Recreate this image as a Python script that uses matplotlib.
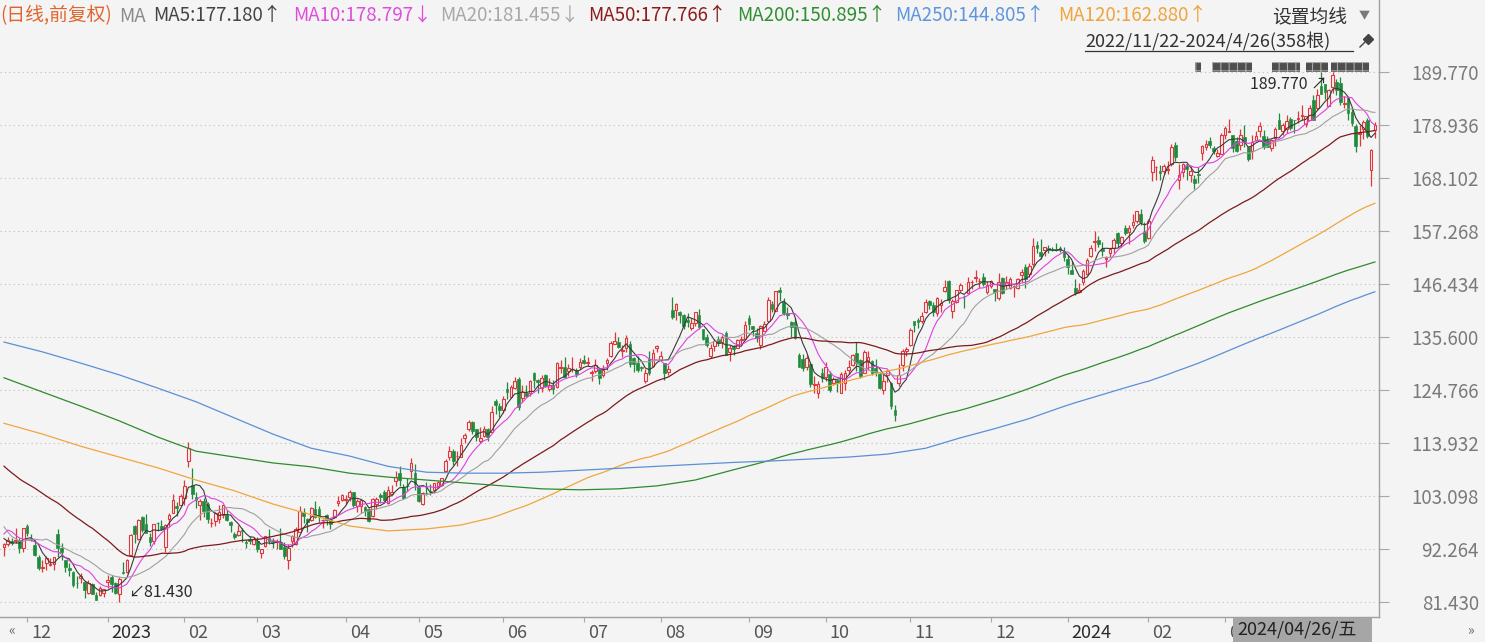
import numpy as np
import pandas as pd
import matplotlib
matplotlib.use('Agg')
import matplotlib.pyplot as plt
from matplotlib.patches import Rectangle
from matplotlib.transforms import ScaledTranslation, Bbox

plt.rcParams['font.family'] = ['Noto Sans CJK SC', 'DejaVu Sans']
plt.rcParams['hatch.linewidth'] = 0.8

# 日线数据 2022/11/22 - 2024/4/26 (358根)
# 均线预热用的前49个收盘价
pre_closes = [
    128.55, 126.28, 123.53, 124.66, 122.19, 118.54, 117.31, 113.78, 115.15, 114.41, 118.01, 114.80, 113.00,
    115.88, 121.09, 120.95, 120.30, 114.56, 113.67, 112.21, 112.90, 112.53, 106.90, 113.79, 116.36, 115.07,
    115.25, 119.32, 119.82, 120.60, 115.66, 110.96, 103.41, 102.44,
    96.79, 92.12, 89.30, 90.98, 90.53, 89.98, 86.14, 96.63, 100.79, 98.49, 98.94, 97.12, 94.85, 94.14, 92.46,
]

opens = [
    92.62, 93.24, 93.79, 93.93, 94.04, 92.47,  # 2022-11
    96.99, 94.48, 93.05, 90.50, 88.34, 89.24, 88.90, 89.21, 95.23, 92.50, 89.89, 88.27, 87.51, 85.33, 86.18, 85.52, 83.25, 84.97, 82.80, 82.87, 83.12,
    85.46, 86.55, 85.33, 83.03, 87.46, 87.57, 90.93, 96.93, 94.18, 98.68, 97.25, 94.74, 93.86, 97.56, 96.93, 92.56, 98.24, 99.53, 101.09, 101.16,
    102.53, 110.25, 105.26, 102.93, 101.17, 102.04, 101.32, 97.56, 97.85, 98.41, 99.09, 99.21, 97.80, 95.34, 95.10, 96.12, 93.53, 94.28, 93.14,
    93.87, 91.41, 92.74, 94.36, 93.87, 93.60, 93.68, 92.67, 89.97, 93.83, 93.22, 95.75, 99.79, 98.41, 98.14, 100.45, 100.43, 98.07, 99.07, 98.11, 98.69, 101.55, 102.16,
    102.30, 102.75, 103.91, 100.96, 100.96, 100.80, 100.40, 98.95, 101.30, 103.16, 103.95, 101.58, 103.53, 106.10, 107.66, 104.91, 105.04, 108.16, 107.73,
    104.95, 101.47, 103.74, 104.04, 104.27, 105.04, 105.32, 108.10, 111.03, 112.16, 111.15, 111.05, 114.89, 116.69, 118.16, 116.77, 114.27, 115.35, 116.63, 116.04, 122.37, 121.45,
    120.69, 124.92, 123.36, 125.07, 127.01, 123.01, 124.08, 124.02, 128.12, 126.70, 125.21, 127.71, 124.97, 125.64, 125.31, 129.11, 129.33, 128.63, 128.94, 128.77, 129.47,
    130.82, 130.24, 128.25, 128.59, 129.07, 127.75, 130.31, 131.66, 134.06, 134.56, 132.71, 133.39, 134.07, 131.34, 130.31, 129.31, 126.51, 131.00, 129.69, 133.20,
    130.78, 130.15, 128.37, 141.06, 140.99, 140.62, 139.97, 139.07, 137.40, 138.30, 140.05, 137.19, 135.46, 131.62, 133.74, 135.08, 134.50, 136.40, 132.47, 133.78, 133.38, 134.93, 135.06,
    139.46, 137.73, 136.32, 133.90, 136.86, 138.75, 142.32, 140.95, 145.08, 142.69, 140.48, 138.70, 138.55, 131.94, 131.11, 129.36, 130.12, 125.76, 124.04, 128.20,
    127.28, 128.06, 126.06, 126.71, 124.16, 126.22, 128.82, 129.74, 132.17, 130.74, 128.23, 130.39, 130.70, 129.14, 128.05, 124.63, 127.74, 126.04, 120.63, 126.20, 129.72, 132.75,
    133.96, 138.73, 138.99, 138.76, 140.55, 142.97, 142.02, 140.46, 142.08, 145.00, 147.06, 140.91, 142.66, 145.13, 143.91, 144.57, 146.70, 147.53, 146.98, 147.85, 144.76,
    146.00, 145.25, 143.55, 147.58, 146.15, 145.48, 145.66, 145.52, 148.12, 149.93, 148.38, 150.56, 154.40, 152.90, 153.30, 153.77, 153.56, 153.56, 153.72, 153.10,
    151.54, 149.20, 145.59, 144.69, 146.74, 148.33, 152.06, 155.04, 155.39, 153.53, 151.49, 152.77, 153.83, 156.89, 154.85, 157.80, 156.95, 158.42, 159.34, 160.70, 157.00,
    155.87, 169.19, 170.20, 169.39, 169.48, 169.65, 170.90, 174.80, 167.73, 169.21, 170.58, 168.74, 167.83, 168.94, 173.10, 174.28, 175.70, 174.08, 172.44, 173.01,
    176.75, 177.53, 176.93, 175.54, 174.83, 176.44, 174.31, 173.50, 175.90, 177.69, 176.64, 175.80, 174.22, 176.14, 179.99, 177.75, 178.01, 180.15, 179.88, 180.17,
    180.79, 179.07, 179.90, 184.00, 182.38, 186.90, 187.24, 182.77, 186.74, 187.72, 187.43, 183.27, 184.31, 181.47, 178.74, 176.94, 178.08, 179.94, 169.68, 177.80,
]

highs = [
    93.35, 94.58, 94.43, 96.40, 94.41, 96.54,
    97.23, 95.36, 94.06, 91.04, 89.89, 90.86, 90.30, 90.58, 96.25, 93.46, 89.97, 89.35, 87.63, 86.61, 87.23, 85.68, 85.78, 85.35, 83.48, 84.55, 84.05,
    86.96, 86.98, 85.42, 86.40, 89.48, 90.19, 95.26, 97.19, 98.37, 98.89, 99.32, 95.44, 97.35, 97.78, 98.09, 97.24, 99.49, 103.49, 101.74, 103.35,
    106.24, 114.00, 108.78, 103.95, 102.41, 102.67, 101.78, 98.60, 99.68, 101.18, 101.17, 100.08, 97.94, 95.61, 97.01, 96.43, 94.14, 94.78, 94.69,
    94.68, 92.23, 94.96, 96.30, 94.45, 94.17, 96.54, 93.57, 93.19, 95.07, 96.67, 100.99, 100.66, 98.48, 100.85, 102.10, 101.06, 98.30, 99.34, 98.44, 100.42, 103.04, 103.49,
    103.29, 104.20, 103.91, 102.38, 102.20, 101.00, 100.51, 102.57, 102.78, 103.73, 104.20, 105.12, 105.25, 108.15, 109.23, 105.45, 106.62, 110.86, 109.48,
    105.23, 103.90, 105.96, 105.39, 105.76, 106.09, 106.79, 110.67, 113.28, 112.64, 112.29, 114.79, 115.83, 118.60, 118.31, 116.77, 117.14, 117.34, 116.87, 121.50, 122.92, 122.04,
    123.49, 126.38, 125.80, 127.40, 127.37, 125.63, 125.80, 126.78, 128.41, 126.95, 127.69, 127.90, 127.25, 126.73, 130.33, 130.84, 131.49, 130.09, 131.48, 129.26, 131.25,
    131.85, 131.40, 128.73, 130.97, 129.28, 129.77, 131.26, 134.62, 136.65, 135.62, 133.86, 135.99, 134.79, 131.37, 131.66, 129.58, 129.08, 132.63, 133.01, 133.87,
    132.63, 130.23, 129.77, 143.63, 142.54, 140.84, 140.32, 140.41, 139.33, 140.59, 141.28, 137.27, 136.09, 134.07, 135.19, 135.65, 135.95, 136.78, 133.87, 133.95, 135.14, 135.68, 138.79,
    139.96, 137.80, 137.45, 138.03, 138.85, 143.62, 143.00, 144.98, 145.86, 143.57, 141.75, 138.84, 139.37, 132.24, 132.03, 131.78, 130.39, 127.48, 126.58, 129.15,
    130.47, 128.52, 127.36, 126.73, 128.45, 128.79, 130.74, 132.05, 134.48, 131.00, 132.80, 132.58, 130.92, 130.95, 128.17, 127.88, 128.80, 126.34, 121.64, 130.02, 133.00, 133.57,
    137.35, 138.81, 139.49, 140.73, 143.37, 143.12, 142.65, 143.65, 143.23, 147.26, 147.29, 143.32, 145.23, 146.63, 144.05, 147.74, 147.20, 149.26, 147.60, 148.54, 146.93,
    147.25, 145.35, 148.57, 147.85, 147.92, 147.84, 146.19, 147.50, 149.46, 150.54, 150.57, 155.76, 155.12, 155.63, 153.97, 154.35, 153.98, 154.78, 154.08, 153.89,
    152.38, 151.05, 147.38, 146.59, 149.40, 151.71, 154.42, 157.17, 156.20, 154.99, 152.15, 153.78, 155.76, 157.05, 156.21, 158.51, 158.51, 160.72, 161.29, 161.73, 159.01,
    159.76, 172.50, 170.55, 170.71, 170.88, 171.43, 175.00, 175.39, 170.95, 171.21, 171.17, 170.42, 168.71, 170.23, 174.80, 175.75, 176.37, 174.62, 174.05, 177.22,
    178.73, 180.14, 176.93, 176.46, 177.99, 178.79, 174.47, 176.76, 177.62, 179.53, 177.93, 176.69, 176.09, 178.53, 181.42, 179.26, 180.99, 180.45, 180.00, 181.70,
    183.00, 180.79, 182.87, 185.10, 186.27, 189.74, 187.34, 186.27, 189.77, 188.38, 188.69, 184.83, 184.57, 182.39, 179.00, 178.87, 179.93, 180.32, 173.92, 179.40,
]

lows = [
    90.87, 92.83, 93.07, 93.43, 91.44, 91.53,
    94.92, 93.78, 90.82, 87.90, 87.48, 87.88, 88.63, 87.87, 90.52, 89.87, 87.47, 86.73, 84.51, 84.33, 85.21, 82.25, 82.93, 83.00, 81.69, 82.55, 82.47,
    84.21, 83.36, 83.07, 81.43, 87.08, 87.29, 90.93, 93.50, 94.12, 95.73, 95.38, 92.86, 93.20, 95.86, 96.00, 91.52, 96.92, 99.53, 99.01, 101.14,
    101.24, 108.88, 102.52, 100.65, 98.08, 98.78, 97.57, 96.76, 96.91, 97.43, 98.45, 97.90, 95.65, 94.27, 94.80, 93.67, 92.32, 93.14, 92.92,
    91.59, 90.39, 92.66, 93.30, 92.36, 92.18, 92.10, 90.25, 88.12, 92.71, 93.07, 95.61, 97.46, 95.70, 98.00, 98.61, 97.62, 96.40, 97.08, 96.29, 98.56, 101.01, 101.95,
    101.43, 102.11, 100.75, 99.80, 99.57, 99.01, 97.71, 98.71, 100.28, 101.59, 101.52, 101.39, 103.21, 105.08, 105.07, 102.45, 104.10, 106.80, 104.33,
    101.82, 101.15, 103.28, 103.31, 103.55, 104.70, 105.16, 108.05, 110.49, 109.32, 109.25, 111.03, 113.96, 116.34, 115.70, 114.25, 113.78, 115.02, 114.31, 116.02, 119.86, 119.17,
    119.93, 122.89, 123.03, 125.00, 120.63, 122.26, 123.19, 123.53, 125.18, 124.12, 124.32, 125.30, 124.50, 123.85, 125.14, 128.28, 127.10, 127.55, 128.44, 127.26, 128.95,
    130.07, 129.64, 126.58, 128.13, 125.92, 127.35, 128.83, 131.43, 134.06, 133.21, 131.35, 132.53, 129.33, 128.42, 128.35, 128.53, 126.11, 127.79, 129.33, 132.38,
    130.65, 126.82, 127.77, 139.32, 138.95, 138.42, 137.10, 137.49, 137.00, 137.75, 137.23, 135.01, 133.53, 131.15, 132.71, 133.73, 133.22, 131.83, 130.58, 131.85, 133.25, 133.92, 135.00,
    136.88, 135.82, 134.61, 133.16, 136.75, 138.64, 140.61, 140.87, 142.95, 140.09, 139.22, 135.56, 135.20, 129.31, 128.52, 128.77, 125.28, 124.13, 123.04, 126.32,
    126.54, 124.25, 125.68, 124.33, 124.13, 124.76, 128.05, 129.61, 128.66, 127.13, 128.12, 128.71, 127.87, 127.65, 124.97, 123.98, 126.34, 120.79, 118.35, 125.52, 128.56, 131.71,
    133.71, 136.47, 137.45, 138.36, 140.50, 141.22, 139.84, 139.91, 140.67, 144.68, 142.59, 139.52, 142.54, 144.73, 141.50, 144.57, 145.32, 146.88, 145.53, 145.97, 144.33,
    145.55, 142.81, 143.13, 144.28, 145.34, 145.40, 143.64, 145.30, 146.82, 145.52, 147.88, 150.05, 152.69, 151.50, 152.10, 152.71, 153.03, 153.12, 152.95, 151.03,
    148.39, 148.33, 144.05, 144.53, 146.15, 148.21, 151.88, 153.12, 154.01, 152.15, 149.91, 151.82, 152.74, 153.90, 153.93, 156.48, 154.55, 157.91, 158.90, 158.49, 154.81,
    155.62, 167.33, 167.70, 167.65, 168.94, 168.88, 170.58, 171.54, 165.75, 168.28, 167.59, 167.17, 165.74, 167.00, 171.77, 173.70, 174.26, 172.86, 172.27, 172.85,
    176.07, 177.49, 173.30, 173.26, 173.72, 174.33, 171.47, 171.98, 175.55, 176.47, 173.90, 174.28, 173.52, 174.64, 178.15, 176.75, 177.24, 177.95, 177.31, 179.26,
    179.95, 178.38, 179.80, 180.00, 181.97, 185.55, 184.20, 182.67, 185.51, 185.08, 183.00, 182.26, 179.82, 178.65, 173.44, 174.56, 175.98, 176.18, 166.32, 176.13,
]

closes = [
    93.20, 94.13, 93.41, 93.95, 92.42, 96.54,
    95.50, 94.13, 91.01, 88.25, 88.46, 90.35, 89.09, 90.55, 92.49, 91.58, 88.45, 87.86, 84.92, 85.19, 86.77, 83.79, 85.25, 83.04, 81.82, 84.18, 84.00,
    85.82, 85.14, 83.12, 86.08, 87.36, 89.87, 95.09, 95.27, 98.12, 96.05, 95.46, 93.68, 97.25, 97.52, 96.32, 97.18, 99.22, 102.24, 100.55, 103.13,
    105.15, 112.91, 103.39, 102.18, 102.11, 100.05, 98.24, 97.61, 99.54, 99.70, 101.16, 98.15, 97.20, 94.58, 95.79, 95.82, 93.50, 93.76, 94.23,
    92.17, 92.13, 94.90, 93.75, 93.55, 93.92, 92.25, 90.73, 92.43, 94.88, 96.20, 100.04, 98.95, 97.71, 100.61, 98.70, 98.71, 98.13, 98.04, 97.24, 100.25, 102.00, 103.29,
    102.41, 103.95, 101.10, 102.06, 102.17, 99.92, 97.83, 102.40, 102.51, 102.74, 102.30, 104.30, 103.81, 106.96, 106.21, 102.57, 104.98, 109.82, 105.45,
    102.05, 103.63, 103.65, 104.00, 105.66, 105.83, 106.62, 110.19, 112.18, 110.26, 111.20, 113.40, 115.50, 118.15, 116.25, 115.01, 114.99, 116.75, 115.00, 120.11, 121.66, 120.58,
    122.77, 124.25, 125.30, 126.61, 121.23, 124.25, 123.43, 126.57, 126.66, 126.42, 127.11, 125.49, 125.78, 124.83, 130.15, 129.33, 127.33, 129.18, 129.04, 127.90, 130.36,
    130.22, 130.38, 128.36, 129.78, 127.13, 128.78, 130.80, 134.30, 134.68, 133.56, 132.83, 135.36, 129.96, 130.00, 128.80, 129.13, 128.15, 128.25, 132.21, 133.68,
    131.69, 128.21, 128.91, 139.57, 142.22, 139.94, 137.85, 138.56, 138.41, 140.57, 137.67, 135.07, 133.98, 133.22, 134.68, 134.25, 135.52, 131.84, 133.26, 133.14, 134.91, 135.07, 138.01,
    138.12, 137.27, 135.36, 137.85, 138.23, 143.10, 141.23, 144.85, 144.72, 140.39, 139.98, 137.63, 135.29, 129.33, 129.12, 131.27, 125.98, 125.98, 125.98, 127.12,
    129.46, 124.72, 127.00, 126.21, 127.96, 128.26, 129.48, 131.83, 130.15, 127.57, 132.55, 131.47, 128.13, 128.40, 125.17, 126.56, 128.56, 121.39, 119.57, 127.74, 132.71, 133.09,
    137.00, 138.07, 138.60, 139.74, 142.71, 142.08, 140.60, 143.56, 142.59, 145.80, 143.20, 142.83, 145.18, 146.13, 143.90, 146.71, 146.74, 147.73, 147.03, 146.32, 146.09,
    147.03, 144.84, 146.88, 144.52, 146.88, 147.42, 145.89, 147.48, 148.84, 147.42, 149.97, 154.07, 153.79, 152.12, 153.84, 153.42, 153.41, 153.34, 153.38, 151.94,
    149.93, 148.47, 144.57, 145.24, 149.10, 151.37, 153.73, 155.18, 154.62, 153.16, 151.71, 153.50, 155.34, 154.78, 156.02, 156.87, 157.75, 159.12, 161.26, 159.00, 155.20,
    159.28, 171.81, 170.31, 169.15, 170.53, 169.84, 174.45, 172.34, 168.64, 170.98, 169.80, 169.51, 167.08, 168.59, 174.58, 174.99, 174.73, 173.54, 173.16, 176.76,
    178.22, 177.58, 174.12, 173.51, 176.82, 175.35, 171.96, 175.39, 176.56, 178.75, 174.42, 174.48, 175.90, 178.15, 178.15, 178.87, 179.71, 178.30, 179.83, 180.38,
    180.97, 180.69, 182.41, 180.00, 185.07, 185.19, 185.67, 185.95, 189.05, 186.13, 183.62, 183.32, 181.28, 179.22, 174.63, 177.23, 179.54, 176.59, 173.67, 178.87,
]

# 长周期均线在窗口不足处从图上读取的点（K线序号, 数值）
ma120_early_idx = [0, 10, 20, 30, 40, 50, 60, 70, 80, 90, 100, 110]
ma120_early = [117.9, 115.7, 113.2, 111.0, 108.8, 106.3, 104.1, 101.4, 99.2, 96.9, 95.9, 96.3]
ma200_early_idx = list(range(0, 200, 10))
ma200_early = [127.2, 124.3, 121.4, 118.4, 115.1, 112.2, 111.0, 109.8, 109.0, 107.7,
               106.9, 106.3, 105.7, 105.1, 104.5, 104.3, 104.5, 105.1, 106.3, 108.4]
ma250_early_idx = list(range(0, 250, 10))
ma250_early = [134.5, 132.5, 130.2, 127.8, 125.1, 122.3, 119.0, 115.7, 112.8, 111.2,
               109.1, 107.9, 107.7, 107.7, 107.9, 108.3, 108.7, 109.1, 109.5, 109.9,
               110.2, 110.6, 111.0, 111.6, 112.8]

month_idx = [6, 27, 47, 66, 89, 108, 130, 151, 171, 194, 214, 236, 257, 277, 298, 318]
month_labels = ['12', '2023', '02', '03', '04', '05', '06', '07', '08', '09', '10', '11', '12', '2024', '02', '03']
price_ticks = [81.430, 92.264, 103.098, 113.932, 124.766, 135.600, 146.434, 157.268, 168.102, 178.936, 189.770]

legend_items = [
    ('(日线,前复权)', '#e0652c'), ('MA', '#8a8a8a'), ('MA5:177.180↑', '#444444'),
    ('MA10:178.797↓', '#e04ce0'), ('MA20:181.455↓', '#a8a8a8'), ('MA50:177.766↑', '#8b1c1c'),
    ('MA200:150.895↑', '#2f8f2f'), ('MA250:144.805↑', '#5f95dc'), ('MA120:162.880↑', '#f0a43c'),
]
legend_x = [0, 119, 153, 293, 440, 588, 737, 895, 1058]

BG = '#f4f4f4'
RED = '#e0363c'
GREEN = '#1f8a3c'

o = np.array(opens)
h = np.array(highs)
l = np.array(lows)
c = np.array(closes)
idx = np.arange(len(c))
up = c >= o

allc = pd.Series(pre_closes + closes)
npre = len(pre_closes)


def ma_short(n):
    return allc.rolling(n, min_periods=1).mean().values[npre:]


def ma_long(n, early_idx, early_vals):
    full = pd.Series(closes).rolling(n).mean().values
    xs = list(early_idx) + list(range(n - 1, len(closes)))
    ys = list(early_vals) + list(full[n - 1:])
    return xs, ys


fig = plt.figure(figsize=(14.85, 6.42), dpi=100, facecolor=BG)
ax = fig.add_axes([0, 25 / 642, 1379 / 1485, 617 / 642], facecolor=BG)

# K线
bot = np.minimum(o, c)
top = np.maximum(o, c)
cols = np.where(up, RED, GREEN)
ax.vlines(idx, l, bot, colors=cols, linewidth=0.9, zorder=2)
ax.vlines(idx, top, h, colors=cols, linewidth=0.9, zorder=2)
ax.bar(idx[up], (c - o)[up], bottom=o[up], width=0.7, facecolor=BG,
       edgecolor=RED, linewidth=0.8, zorder=2)
ax.bar(idx[~up], (o - c)[~up], bottom=c[~up], width=0.7, facecolor=GREEN,
       edgecolor=GREEN, linewidth=0.5, zorder=2)

# 均线
ax.plot(idx, ma_short(5), color='#3a3a3a', lw=0.8, zorder=3)
ax.plot(idx, ma_short(10), color='#e040e0', lw=0.8, zorder=3)
ax.plot(idx, ma_short(20), color='#a0a0a0', lw=0.8, zorder=3)
ax.plot(idx, ma_short(50), color='#7b1b1b', lw=0.9, zorder=3)
for n, ei, ev, col in [(120, ma120_early_idx, ma120_early, '#f0a63c'),
                       (200, ma200_early_idx, ma200_early, '#2e8b2e'),
                       (250, ma250_early_idx, ma250_early, '#5c8fd6')]:
    xs, ys = ma_long(n, ei, ev)
    ax.plot(xs, ys, color=col, lw=0.9, zorder=3)

ax.set_xlim(-1.04, 358.07)
ax.set_ylim(78.30, 204.43)

for s in ['left', 'top']:
    ax.spines[s].set_visible(False)
for s in ['right', 'bottom']:
    ax.spines[s].set_color('#a0a0a0')
    ax.spines[s].set_linewidth(1.0)

ax.yaxis.tick_right()
ax.set_yticks(price_ticks)
ax.set_yticklabels(['%.3f' % v for v in price_ticks])
ax.tick_params(axis='y', length=7.2, width=0.8, color='#a8a8a8', pad=64.8,
               labelsize=13.5, labelcolor='#7a7a7a')
for t in ax.get_yticklabels():
    t.set_ha('right')
ax.yaxis.grid(True, linestyle=(0, (1, 3)), color='#bdbdbd', linewidth=0.8)
ax.set_axisbelow(True)

ax.set_xticks(month_idx)
ax.set_xticklabels(month_labels)
ax.tick_params(axis='x', length=3.5, width=0.8, color='#a8a8a8', pad=1.5,
               labelsize=13, labelcolor='#555555')
shift = ScaledTranslation(4 / 100, 0, fig.dpi_scale_trans)
clip = Bbox.from_extents(0, 0, 1233, 642)
for t in ax.get_xticklabels():
    t.set_ha('left')
    t.set_transform(t.get_transform() + shift)
    t.set_clip_box(clip)
    t.set_clip_on(True)
    if len(t.get_text()) == 4:
        t.set_color('#2a2a2a')

# 最高/最低价标注
imax = int(np.argmax(h))
imin = int(np.argmin(l))
ax.annotate('%.3f ↗' % h[imax], xy=(imax, h[imax]), xytext=(-4, -9.5),
            textcoords='offset points', ha='right', va='center',
            fontsize=11.5, color='#2a2a2a', zorder=5)
ax.annotate('↙%.3f' % l[imin], xy=(imin, l[imin]), xytext=(6.5, 6.5),
            textcoords='offset points', ha='left', va='center',
            fontsize=11.5, color='#2a2a2a', zorder=5)

# 装饰层（像素坐标）
ov = fig.add_axes([0, 0, 1, 1], facecolor='none')
ov.set_xlim(0, 1485)
ov.set_ylim(642, 0)
ov.axis('off')

for (txt, col), x in zip(legend_items, legend_x):
    ov.text(x, 16, txt, color=col, fontsize=13.5, ha='left', va='center')

ov.text(1272, 17, '设置均线', color='#333333', fontsize=13.5, ha='left', va='center')
ov.text(1364, 16, '▼', color='#7a7a7a', fontsize=8, ha='center', va='center')
ov.text(1085, 42, '2022/11/22-2024/4/26(358根)', color='#333333', fontsize=13,
        ha='left', va='center')
ov.plot([1085, 1353], [51, 51], color='#333333', lw=0.9)
ov.plot([1360, 1366], [47, 41], color='#444444', lw=1.0)
ov.plot(1368, 39, marker='D', markersize=5.5, color='#444444')

for x0, x1 in [(1195, 1201), (1212, 1252), (1272, 1300), (1306, 1328), (1331, 1369)]:
    ov.add_patch(Rectangle((x0, 62), x1 - x0, 10, facecolor='#4e4e4e',
                           edgecolor='#a8a8a8', hatch='++', lw=0))

ov.add_patch(Rectangle((1233, 618), 139, 24, facecolor='#a6a6a6', edgecolor='none'))
ov.text(1237, 630, '2024/04/26/五', color='#222222', fontsize=13, ha='left', va='center')
ov.text(12, 630, '«', color='#666666', fontsize=10, ha='center', va='center')
ov.text(1470, 630, '»', color='#666666', fontsize=10, ha='center', va='center')

fig.savefig('out.png', dpi=100, facecolor=BG)
